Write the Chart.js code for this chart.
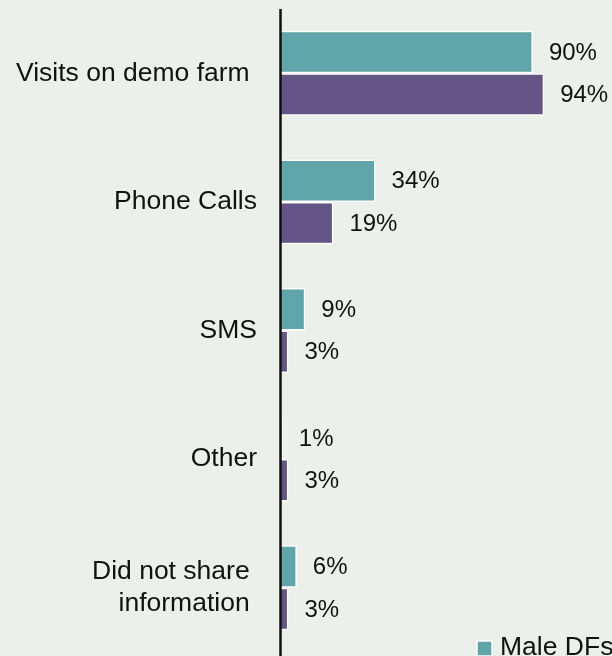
<!DOCTYPE html>
<html lang="en">
<head>
    <meta charset="UTF-8">
    <title>Information sharing channels</title>
    <script src="https://cdn.jsdelivr.net/npm/chart.js"></script>
    <style>
        html, body {
            margin: 0;
            padding: 0;
            background-color: #ebf0ea;
            overflow: hidden;
        }
        #chartContainer {
            width: 612px;
            height: 656px;
            position: relative;
        }
    </style>
</head>
<body>
    <div id="chartContainer">
        <canvas id="channelsChart"></canvas>
    </div>

    <script>
        const categories = ['Visits on demo farm ', 'Phone Calls', 'SMS', 'Other', ['Did not share ', 'information ']];
        const maleValues = [90, 34, 9, 1, 6];
        const femaleValues = [94, 19, 3, 3, 3];
        const seriesNames = ['Male DFs', 'Female DFs'];

        const fontFamily = '"Liberation Sans", Arial, Helvetica, sans-serif';
        const teal = '#5fa5a9';
        const purple = '#635586';

        // percent labels at the end of every bar
        const valueLabels = {
            id: 'valueLabels',
            afterDatasetsDraw(chart) {
                const ctx = chart.ctx;
                ctx.save();
                ctx.font = '24px ' + fontFamily;
                ctx.fillStyle = '#111';
                ctx.textAlign = 'left';
                ctx.textBaseline = 'middle';
                chart.data.datasets.forEach((ds, i) => {
                    chart.getDatasetMeta(i).data.forEach((bar, j) => {
                        ctx.fillText(ds.data[j] + '%', bar.x + 16, bar.y + 1);
                    });
                });
                ctx.restore();
            }
        };

        // legend sits at the bottom right, mostly cropped away
        const cornerLegend = {
            id: 'cornerLegend',
            afterDraw(chart) {
                const ctx = chart.ctx;
                ctx.save();
                ctx.fillStyle = teal;
                ctx.strokeStyle = '#fff';
                ctx.lineWidth = 1.5;
                ctx.fillRect(477, 641, 15, 15);
                ctx.strokeRect(477, 641, 15, 15);
                ctx.font = '26.5px ' + fontFamily;
                ctx.fillStyle = '#111';
                ctx.textBaseline = 'alphabetic';
                ctx.fillText(seriesNames[0], 500, 655);
                ctx.restore();
            }
        };

        // axis line reaches the bottom edge
        const axisLine = {
            id: 'axisLine',
            afterDatasetsDraw(chart) {
                const ctx = chart.ctx;
                const x = chart.chartArea.left + 0.5;
                ctx.save();
                ctx.strokeStyle = '#111';
                ctx.lineWidth = 2.5;
                ctx.beginPath();
                ctx.moveTo(x, chart.chartArea.top);
                ctx.lineTo(x, chart.height);
                ctx.stroke();
                ctx.restore();
            }
        };

        new Chart(document.getElementById('channelsChart'), {
            type: 'bar',
            data: {
                labels: categories,
                datasets: [{
                    label: seriesNames[0],
                    data: maleValues,
                    backgroundColor: teal,
                    borderColor: '#ffffff',
                    borderWidth: 1.5,
                    borderSkipped: 'start'
                }, {
                    label: seriesNames[1],
                    data: femaleValues,
                    backgroundColor: purple,
                    borderColor: '#ffffff',
                    borderWidth: 1.5,
                    borderSkipped: 'start'
                }]
            },
            options: {
                indexAxis: 'y',
                responsive: true,
                maintainAspectRatio: false,
                animation: false,
                categoryPercentage: 0.66,
                barPercentage: 1.0,
                layout: {
                    padding: { top: 9, bottom: 4, left: 0, right: 51 }
                },
                plugins: {
                    legend: { display: false },
                    tooltip: { enabled: false }
                },
                scales: {
                    x: {
                        display: false,
                        min: 0,
                        max: 100
                    },
                    y: {
                        grid: { display: false, drawTicks: false },
                        border: { display: false },
                        ticks: {
                            color: '#111',
                            padding: 23,
                            font: { family: fontFamily, size: 26.5, lineHeight: 1.24 }
                        },
                        afterFit(scale) {
                            scale.width = 280;
                            scale.paddingTop = 0;
                            scale.paddingBottom = 0;
                        }
                    }
                }
            },
            plugins: [valueLabels, cornerLegend, axisLine]
        });
    </script>
</body>
</html>
